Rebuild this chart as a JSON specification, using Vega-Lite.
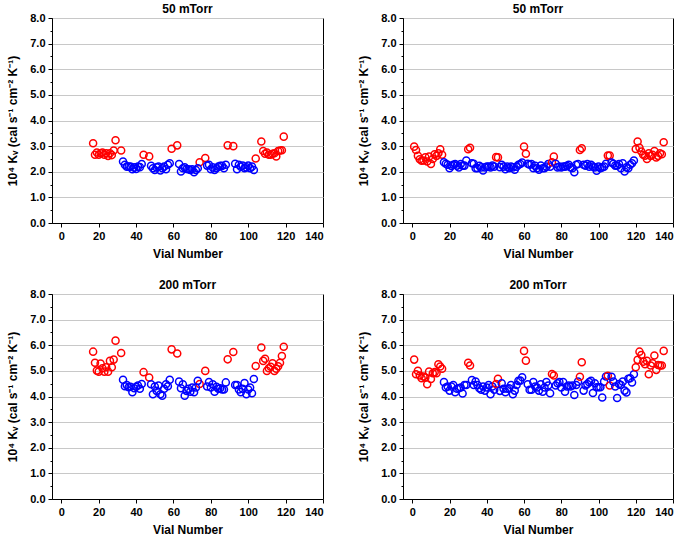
{
"$schema":"https://vega.github.io/schema/vega-lite/v6.json",
"padding":{"left":6,"top":2,"right":5,"bottom":0},
"background":"white",
"datasets":{
"p1":[{"v":17,"k":3.11,"g":"r"},{"v":18,"k":2.66,"g":"r"},{"v":19,"k":2.75,"g":"r"},{"v":20,"k":2.66,"g":"r"},{"v":21,"k":2.72,"g":"r"},{"v":22,"k":2.75,"g":"r"},{"v":23,"k":2.66,"g":"r"},{"v":24,"k":2.72,"g":"r"},{"v":25,"k":2.62,"g":"r"},{"v":26,"k":2.72,"g":"r"},{"v":27,"k":2.65,"g":"r"},{"v":28,"k":2.83,"g":"r"},{"v":29,"k":3.23,"g":"r"},{"v":32,"k":2.83,"g":"r"},{"v":44,"k":2.66,"g":"r"},{"v":47,"k":2.6,"g":"r"},{"v":59,"k":2.9,"g":"r"},{"v":62,"k":3.03,"g":"r"},{"v":74,"k":2.37,"g":"r"},{"v":77,"k":2.54,"g":"r"},{"v":89,"k":3.03,"g":"r"},{"v":92,"k":3.0,"g":"r"},{"v":104,"k":2.52,"g":"r"},{"v":107,"k":3.18,"g":"r"},{"v":108,"k":2.81,"g":"r"},{"v":109,"k":2.7,"g":"r"},{"v":110,"k":2.75,"g":"r"},{"v":111,"k":2.66,"g":"r"},{"v":112,"k":2.66,"g":"r"},{"v":113,"k":2.7,"g":"r"},{"v":114,"k":2.72,"g":"r"},{"v":115,"k":2.6,"g":"r"},{"v":116,"k":2.81,"g":"r"},{"v":117,"k":2.83,"g":"r"},{"v":118,"k":2.84,"g":"r"},{"v":119,"k":3.37,"g":"r"},
{"v":33,"k":2.4,"g":"b"},{"v":34,"k":2.27,"g":"b"},{"v":35,"k":2.2,"g":"b"},{"v":36,"k":2.2,"g":"b"},{"v":37,"k":2.2,"g":"b"},{"v":38,"k":2.1,"g":"b"},{"v":39,"k":2.17,"g":"b"},{"v":40,"k":2.11,"g":"b"},{"v":41,"k":2.2,"g":"b"},{"v":42,"k":2.18,"g":"b"},{"v":43,"k":2.3,"g":"b"},
{"v":48,"k":2.23,"g":"b"},{"v":49,"k":2.14,"g":"b"},{"v":50,"k":2.07,"g":"b"},{"v":51,"k":2.17,"g":"b"},{"v":52,"k":2.2,"g":"b"},{"v":53,"k":2.05,"g":"b"},{"v":54,"k":2.14,"g":"b"},{"v":55,"k":2.2,"g":"b"},{"v":56,"k":2.1,"g":"b"},{"v":57,"k":2.27,"g":"b"},{"v":58,"k":2.33,"g":"b"},
{"v":63,"k":2.3,"g":"b"},{"v":64,"k":2.01,"g":"b"},{"v":65,"k":2.14,"g":"b"},{"v":66,"k":2.17,"g":"b"},{"v":67,"k":2.11,"g":"b"},{"v":68,"k":2.1,"g":"b"},{"v":69,"k":2.07,"g":"b"},{"v":70,"k":2.1,"g":"b"},{"v":71,"k":1.98,"g":"b"},{"v":72,"k":2.07,"g":"b"},{"v":73,"k":2.14,"g":"b"},
{"v":78,"k":2.24,"g":"b"},{"v":79,"k":2.27,"g":"b"},{"v":80,"k":2.1,"g":"b"},{"v":81,"k":2.17,"g":"b"},{"v":82,"k":2.07,"g":"b"},{"v":83,"k":2.14,"g":"b"},{"v":84,"k":2.2,"g":"b"},{"v":85,"k":2.23,"g":"b"},{"v":86,"k":2.23,"g":"b"},{"v":87,"k":2.14,"g":"b"},{"v":88,"k":2.27,"g":"b"},
{"v":93,"k":2.31,"g":"b"},{"v":94,"k":2.1,"g":"b"},{"v":95,"k":2.27,"g":"b"},{"v":96,"k":2.2,"g":"b"},{"v":97,"k":2.24,"g":"b"},{"v":98,"k":2.14,"g":"b"},{"v":99,"k":2.17,"g":"b"},{"v":100,"k":2.24,"g":"b"},{"v":101,"k":2.14,"g":"b"},{"v":102,"k":2.2,"g":"b"},{"v":103,"k":2.07,"g":"b"}],
"p2":[{"v":1,"k":2.98,"g":"r"},{"v":2,"k":2.85,"g":"r"},{"v":3,"k":2.62,"g":"r"},{"v":4,"k":2.49,"g":"r"},{"v":5,"k":2.43,"g":"r"},{"v":6,"k":2.44,"g":"r"},{"v":7,"k":2.56,"g":"r"},{"v":8,"k":2.4,"g":"r"},{"v":9,"k":2.59,"g":"r"},{"v":10,"k":2.3,"g":"r"},{"v":11,"k":2.5,"g":"r"},{"v":12,"k":2.68,"g":"r"},{"v":13,"k":2.62,"g":"r"},{"v":14,"k":2.72,"g":"r"},{"v":15,"k":2.88,"g":"r"},{"v":16,"k":2.66,"g":"r"},
{"v":17,"k":2.37,"g":"b"},{"v":18,"k":2.31,"g":"b"},{"v":19,"k":2.27,"g":"b"},{"v":20,"k":2.14,"g":"b"},{"v":21,"k":2.23,"g":"b"},{"v":22,"k":2.27,"g":"b"},{"v":23,"k":2.3,"g":"b"},{"v":24,"k":2.24,"g":"b"},{"v":25,"k":2.17,"g":"b"},{"v":26,"k":2.3,"g":"b"},{"v":27,"k":2.24,"g":"b"},{"v":28,"k":2.24,"g":"b"},{"v":29,"k":2.44,"g":"b"},
{"v":30,"k":2.88,"g":"r"},{"v":31,"k":2.94,"g":"r"},
{"v":32,"k":2.33,"g":"b"},{"v":33,"k":2.31,"g":"b"},{"v":34,"k":2.14,"g":"b"},{"v":35,"k":2.14,"g":"b"},{"v":36,"k":2.23,"g":"b"},{"v":37,"k":2.17,"g":"b"},{"v":38,"k":2.05,"g":"b"},{"v":39,"k":2.17,"g":"b"},{"v":40,"k":2.2,"g":"b"},{"v":41,"k":2.2,"g":"b"},{"v":42,"k":2.17,"g":"b"},{"v":43,"k":2.24,"g":"b"},{"v":44,"k":2.2,"g":"b"},
{"v":45,"k":2.57,"g":"r"},{"v":46,"k":2.56,"g":"r"},
{"v":47,"k":2.18,"g":"b"},{"v":48,"k":2.27,"g":"b"},{"v":49,"k":2.2,"g":"b"},{"v":50,"k":2.1,"g":"b"},{"v":51,"k":2.2,"g":"b"},{"v":52,"k":2.14,"g":"b"},{"v":53,"k":2.2,"g":"b"},{"v":54,"k":2.17,"g":"b"},{"v":55,"k":2.08,"g":"b"},{"v":56,"k":2.2,"g":"b"},{"v":57,"k":2.27,"g":"b"},{"v":58,"k":2.3,"g":"b"},{"v":59,"k":2.36,"g":"b"},
{"v":60,"k":2.98,"g":"r"},{"v":61,"k":2.7,"g":"r"},
{"v":62,"k":2.31,"g":"b"},{"v":63,"k":2.27,"g":"b"},{"v":64,"k":2.3,"g":"b"},{"v":65,"k":2.14,"g":"b"},{"v":66,"k":2.23,"g":"b"},{"v":67,"k":2.14,"g":"b"},{"v":68,"k":2.08,"g":"b"},{"v":69,"k":2.24,"g":"b"},{"v":70,"k":2.14,"g":"b"},{"v":71,"k":2.14,"g":"b"},{"v":72,"k":2.2,"g":"b"},{"v":73,"k":2.3,"g":"b"},{"v":74,"k":2.2,"g":"b"},
{"v":75,"k":2.37,"g":"r"},{"v":76,"k":2.59,"g":"r"},
{"v":77,"k":2.31,"g":"b"},{"v":78,"k":2.17,"g":"b"},{"v":79,"k":2.2,"g":"b"},{"v":80,"k":2.17,"g":"b"},{"v":81,"k":2.2,"g":"b"},{"v":82,"k":2.2,"g":"b"},{"v":83,"k":2.23,"g":"b"},{"v":84,"k":2.27,"g":"b"},{"v":85,"k":2.17,"g":"b"},{"v":86,"k":2.14,"g":"b"},{"v":87,"k":1.98,"g":"b"},{"v":88,"k":2.27,"g":"b"},{"v":89,"k":2.3,"g":"b"},
{"v":90,"k":2.85,"g":"r"},{"v":91,"k":2.92,"g":"r"},
{"v":92,"k":2.27,"g":"b"},{"v":93,"k":2.24,"g":"b"},{"v":94,"k":2.3,"g":"b"},{"v":95,"k":2.2,"g":"b"},{"v":96,"k":2.27,"g":"b"},{"v":97,"k":2.2,"g":"b"},{"v":98,"k":2.17,"g":"b"},{"v":99,"k":2.04,"g":"b"},{"v":100,"k":2.2,"g":"b"},{"v":101,"k":2.14,"g":"b"},{"v":102,"k":2.17,"g":"b"},{"v":103,"k":2.2,"g":"b"},{"v":104,"k":2.31,"g":"b"},
{"v":105,"k":2.63,"g":"r"},{"v":106,"k":2.63,"g":"r"},
{"v":107,"k":2.36,"g":"b"},{"v":108,"k":2.31,"g":"b"},{"v":109,"k":2.24,"g":"b"},{"v":110,"k":2.24,"g":"b"},{"v":111,"k":2.3,"g":"b"},{"v":112,"k":2.14,"g":"b"},{"v":113,"k":2.33,"g":"b"},{"v":114,"k":2.01,"g":"b"},{"v":115,"k":2.17,"g":"b"},{"v":116,"k":2.14,"g":"b"},{"v":117,"k":2.27,"g":"b"},{"v":118,"k":2.33,"g":"b"},{"v":119,"k":2.44,"g":"b"},
{"v":120,"k":2.89,"g":"r"},{"v":121,"k":3.18,"g":"r"},{"v":122,"k":2.94,"g":"r"},{"v":123,"k":2.79,"g":"r"},{"v":124,"k":2.66,"g":"r"},{"v":125,"k":2.63,"g":"r"},{"v":126,"k":2.5,"g":"r"},{"v":127,"k":2.72,"g":"r"},{"v":128,"k":2.62,"g":"r"},{"v":129,"k":2.66,"g":"r"},{"v":130,"k":2.81,"g":"r"},{"v":131,"k":2.56,"g":"r"},{"v":132,"k":2.62,"g":"r"},{"v":133,"k":2.72,"g":"r"},{"v":134,"k":2.68,"g":"r"},{"v":135,"k":3.15,"g":"r"}],
"p3":[{"v":17,"k":5.75,"g":"r"},{"v":18,"k":5.32,"g":"r"},{"v":19,"k":5.01,"g":"r"},{"v":20,"k":4.97,"g":"r"},{"v":21,"k":5.29,"g":"r"},{"v":22,"k":5.1,"g":"r"},{"v":23,"k":4.97,"g":"r"},{"v":24,"k":5.14,"g":"r"},{"v":25,"k":4.97,"g":"r"},{"v":26,"k":5.39,"g":"r"},{"v":27,"k":5.14,"g":"r"},{"v":28,"k":5.44,"g":"r"},{"v":29,"k":6.18,"g":"r"},{"v":32,"k":5.7,"g":"r"},{"v":44,"k":4.95,"g":"r"},{"v":47,"k":4.74,"g":"r"},{"v":59,"k":5.84,"g":"r"},{"v":62,"k":5.68,"g":"r"},{"v":74,"k":4.49,"g":"r"},{"v":77,"k":5.0,"g":"r"},{"v":89,"k":5.45,"g":"r"},{"v":92,"k":5.74,"g":"r"},{"v":104,"k":5.19,"g":"r"},{"v":107,"k":5.91,"g":"r"},{"v":108,"k":5.39,"g":"r"},{"v":109,"k":5.47,"g":"r"},{"v":110,"k":5.0,"g":"r"},{"v":111,"k":5.1,"g":"r"},{"v":112,"k":5.16,"g":"r"},{"v":113,"k":5.3,"g":"r"},{"v":114,"k":5.0,"g":"r"},{"v":115,"k":5.08,"g":"r"},{"v":116,"k":5.18,"g":"r"},{"v":117,"k":5.32,"g":"r"},{"v":118,"k":5.58,"g":"r"},{"v":119,"k":5.94,"g":"r"},
{"v":33,"k":4.65,"g":"b"},{"v":34,"k":4.4,"g":"b"},{"v":35,"k":4.45,"g":"b"},{"v":36,"k":4.36,"g":"b"},{"v":37,"k":4.38,"g":"b"},{"v":38,"k":4.17,"g":"b"},{"v":39,"k":4.32,"g":"b"},{"v":40,"k":4.38,"g":"b"},{"v":41,"k":4.43,"g":"b"},{"v":42,"k":4.3,"g":"b"},{"v":43,"k":4.49,"g":"b"},
{"v":48,"k":4.48,"g":"b"},{"v":49,"k":4.09,"g":"b"},{"v":50,"k":4.39,"g":"b"},{"v":51,"k":4.22,"g":"b"},{"v":52,"k":4.43,"g":"b"},{"v":53,"k":4.09,"g":"b"},{"v":54,"k":4.03,"g":"b"},{"v":55,"k":4.3,"g":"b"},{"v":56,"k":4.48,"g":"b"},{"v":57,"k":4.4,"g":"b"},{"v":58,"k":4.65,"g":"b"},
{"v":63,"k":4.58,"g":"b"},{"v":64,"k":4.32,"g":"b"},{"v":65,"k":4.48,"g":"b"},{"v":66,"k":4.03,"g":"b"},{"v":67,"k":4.22,"g":"b"},{"v":68,"k":4.3,"g":"b"},{"v":69,"k":4.19,"g":"b"},{"v":70,"k":4.35,"g":"b"},{"v":71,"k":4.17,"g":"b"},{"v":72,"k":4.35,"g":"b"},{"v":73,"k":4.61,"g":"b"},
{"v":78,"k":4.39,"g":"b"},{"v":79,"k":4.56,"g":"b"},{"v":80,"k":4.35,"g":"b"},{"v":81,"k":4.48,"g":"b"},{"v":82,"k":4.19,"g":"b"},{"v":83,"k":4.38,"g":"b"},{"v":84,"k":4.3,"g":"b"},{"v":85,"k":4.32,"g":"b"},{"v":86,"k":4.27,"g":"b"},{"v":87,"k":4.27,"g":"b"},{"v":88,"k":4.55,"g":"b"},
{"v":93,"k":4.45,"g":"b"},{"v":94,"k":4.45,"g":"b"},{"v":95,"k":4.27,"g":"b"},{"v":96,"k":4.17,"g":"b"},{"v":97,"k":4.3,"g":"b"},{"v":98,"k":4.53,"g":"b"},{"v":99,"k":4.09,"g":"b"},{"v":100,"k":4.27,"g":"b"},{"v":101,"k":4.35,"g":"b"},{"v":102,"k":4.13,"g":"b"},{"v":103,"k":4.68,"g":"b"}],
"p4":[{"v":1,"k":5.44,"g":"r"},{"v":2,"k":4.87,"g":"r"},{"v":3,"k":5.0,"g":"r"},{"v":4,"k":4.82,"g":"r"},{"v":5,"k":4.71,"g":"r"},{"v":6,"k":4.78,"g":"r"},{"v":7,"k":4.74,"g":"r"},{"v":8,"k":4.48,"g":"r"},{"v":9,"k":4.97,"g":"r"},{"v":10,"k":4.68,"g":"r"},{"v":11,"k":4.91,"g":"r"},{"v":12,"k":4.95,"g":"r"},{"v":13,"k":4.91,"g":"r"},{"v":14,"k":5.26,"g":"r"},{"v":15,"k":5.17,"g":"r"},{"v":16,"k":5.08,"g":"r"},
{"v":17,"k":4.56,"g":"b"},{"v":18,"k":4.35,"g":"b"},{"v":19,"k":4.39,"g":"b"},{"v":20,"k":4.23,"g":"b"},{"v":21,"k":4.39,"g":"b"},{"v":22,"k":4.45,"g":"b"},{"v":23,"k":4.17,"g":"b"},{"v":24,"k":4.3,"g":"b"},{"v":25,"k":4.32,"g":"b"},{"v":26,"k":4.35,"g":"b"},{"v":27,"k":4.12,"g":"b"},{"v":28,"k":4.45,"g":"b"},{"v":29,"k":4.45,"g":"b"},
{"v":30,"k":5.32,"g":"r"},{"v":31,"k":5.21,"g":"r"},
{"v":32,"k":4.64,"g":"b"},{"v":33,"k":4.45,"g":"b"},{"v":34,"k":4.58,"g":"b"},{"v":35,"k":4.45,"g":"b"},{"v":36,"k":4.32,"g":"b"},{"v":37,"k":4.26,"g":"b"},{"v":38,"k":4.39,"g":"b"},{"v":39,"k":4.23,"g":"b"},{"v":40,"k":4.35,"g":"b"},{"v":41,"k":4.45,"g":"b"},{"v":42,"k":4.09,"g":"b"},{"v":43,"k":4.39,"g":"b"},{"v":44,"k":4.26,"g":"b"},
{"v":45,"k":4.49,"g":"r"},{"v":46,"k":4.69,"g":"r"},
{"v":47,"k":4.22,"g":"b"},{"v":48,"k":4.52,"g":"b"},{"v":49,"k":4.3,"g":"b"},{"v":50,"k":4.17,"g":"b"},{"v":51,"k":4.3,"g":"b"},{"v":52,"k":4.32,"g":"b"},{"v":53,"k":4.45,"g":"b"},{"v":54,"k":4.09,"g":"b"},{"v":55,"k":4.23,"g":"b"},{"v":56,"k":4.45,"g":"b"},{"v":57,"k":4.61,"g":"b"},{"v":58,"k":4.62,"g":"b"},{"v":59,"k":4.75,"g":"b"},
{"v":60,"k":5.78,"g":"r"},{"v":61,"k":5.4,"g":"r"},
{"v":62,"k":4.48,"g":"b"},{"v":63,"k":4.26,"g":"b"},{"v":64,"k":4.26,"g":"b"},{"v":65,"k":4.56,"g":"b"},{"v":66,"k":4.39,"g":"b"},{"v":67,"k":4.35,"g":"b"},{"v":68,"k":4.23,"g":"b"},{"v":69,"k":4.48,"g":"b"},{"v":70,"k":4.19,"g":"b"},{"v":71,"k":4.35,"g":"b"},{"v":72,"k":4.56,"g":"b"},{"v":73,"k":4.43,"g":"b"},{"v":74,"k":4.13,"g":"b"},
{"v":75,"k":4.88,"g":"r"},{"v":76,"k":4.82,"g":"r"},
{"v":77,"k":4.43,"g":"b"},{"v":78,"k":4.52,"g":"b"},{"v":79,"k":4.56,"g":"b"},{"v":80,"k":4.35,"g":"b"},{"v":81,"k":4.56,"g":"b"},{"v":82,"k":4.19,"g":"b"},{"v":83,"k":4.39,"g":"b"},{"v":84,"k":4.43,"g":"b"},{"v":85,"k":4.39,"g":"b"},{"v":86,"k":4.43,"g":"b"},{"v":87,"k":4.06,"g":"b"},{"v":88,"k":4.45,"g":"b"},{"v":89,"k":4.58,"g":"b"},
{"v":90,"k":4.77,"g":"r"},{"v":91,"k":5.34,"g":"r"},
{"v":92,"k":4.23,"g":"b"},{"v":93,"k":4.43,"g":"b"},{"v":94,"k":4.49,"g":"b"},{"v":95,"k":4.56,"g":"b"},{"v":96,"k":4.61,"g":"b"},{"v":97,"k":4.14,"g":"b"},{"v":98,"k":4.52,"g":"b"},{"v":99,"k":4.36,"g":"b"},{"v":100,"k":4.36,"g":"b"},{"v":101,"k":4.36,"g":"b"},{"v":102,"k":3.96,"g":"b"},{"v":103,"k":4.58,"g":"b"},{"v":104,"k":4.78,"g":"b"},
{"v":105,"k":4.81,"g":"r"},{"v":106,"k":4.43,"g":"r"},
{"v":107,"k":4.77,"g":"b"},{"v":108,"k":4.58,"g":"b"},{"v":109,"k":4.39,"g":"b"},{"v":110,"k":3.94,"g":"b"},{"v":111,"k":4.49,"g":"b"},{"v":112,"k":4.45,"g":"b"},{"v":113,"k":4.58,"g":"b"},{"v":114,"k":4.23,"g":"b"},{"v":115,"k":4.16,"g":"b"},{"v":116,"k":4.69,"g":"b"},{"v":117,"k":4.71,"g":"b"},{"v":118,"k":4.55,"g":"b"},{"v":119,"k":4.87,"g":"b"},
{"v":120,"k":5.14,"g":"r"},{"v":121,"k":5.43,"g":"r"},{"v":122,"k":5.75,"g":"r"},{"v":123,"k":5.62,"g":"r"},{"v":124,"k":5.36,"g":"r"},{"v":125,"k":5.26,"g":"r"},{"v":126,"k":5.39,"g":"r"},{"v":127,"k":4.87,"g":"r"},{"v":128,"k":5.21,"g":"r"},{"v":129,"k":5.3,"g":"r"},{"v":130,"k":5.6,"g":"r"},{"v":131,"k":5.04,"g":"r"},{"v":132,"k":5.23,"g":"r"},{"v":133,"k":5.21,"g":"r"},{"v":134,"k":5.21,"g":"r"},{"v":135,"k":5.78,"g":"r"}]
},
"columns":2,
"spacing":{"row":71,"column":80},
"bounds":"flush",
"concat":[
{"title":"50 mTorr","data":{"name":"p1"},"width":271,"height":205,"resolve":{"axis":{"y":"independent"}},
 "layer":[
 {"mark":{"type":"point","filled":false,"size":50,"strokeWidth":1.5,"opacity":1},
 "encoding":{
  "x":{"field":"v","type":"quantitative","scale":{"domain":[-5,140],"nice":false,"zero":false},"axis":{"values":[0,20,40,60,80,100,120,140],"labelOverlap":false,"title":"Vial Number"}},
  "y":{"field":"k","type":"quantitative","scale":{"domain":[0,8],"nice":false},"axis":{"values":[0,1,2,3,4,5,6,7,8],"format":".1f","title":"10⁴ Kᵥ  (cal s⁻¹ cm⁻² K⁻¹)"}},
  "color":{"field":"g","type":"nominal","scale":{"domain":["r","b"],"range":["#ff0000","#0000ff"]},"legend":null}}},
 {"mark":{"type":"point","opacity":0},
 "encoding":{
  "x":{"field":"v","type":"quantitative","axis":{"values":[0,20,40,60,80,100,120,140],"labelOverlap":false,"title":"Vial Number"}},
  "y":{"field":"k","type":"quantitative","axis":{"orient":"left","values":[0.5,1.5,2.5,3.5,4.5,5.5,6.5,7.5],"labels":false,"grid":false,"domain":false,"title":null,"tickSize":2}}}}
 ]},
{"title":"50 mTorr","data":{"name":"p2"},"width":270,"height":205,"resolve":{"axis":{"y":"independent"}},
 "layer":[
 {"mark":{"type":"point","filled":false,"size":50,"strokeWidth":1.5,"opacity":1},
 "encoding":{
  "x":{"field":"v","type":"quantitative","scale":{"domain":[-5,140],"nice":false,"zero":false},"axis":{"values":[0,20,40,60,80,100,120,140],"labelOverlap":false,"title":"Vial Number"}},
  "y":{"field":"k","type":"quantitative","scale":{"domain":[0,8],"nice":false},"axis":{"values":[0,1,2,3,4,5,6,7,8],"format":".1f","title":"10⁴ Kᵥ  (cal s⁻¹ cm⁻² K⁻¹)"}},
  "color":{"field":"g","type":"nominal","scale":{"domain":["r","b"],"range":["#ff0000","#0000ff"]},"legend":null}}},
 {"mark":{"type":"point","opacity":0},
 "encoding":{
  "x":{"field":"v","type":"quantitative","axis":{"values":[0,20,40,60,80,100,120,140],"labelOverlap":false,"title":"Vial Number"}},
  "y":{"field":"k","type":"quantitative","axis":{"orient":"left","values":[0.5,1.5,2.5,3.5,4.5,5.5,6.5,7.5],"labels":false,"grid":false,"domain":false,"title":null,"tickSize":2}}}}
 ]},
{"title":"200 mTorr","data":{"name":"p3"},"width":271,"height":205,"resolve":{"axis":{"y":"independent"}},
 "layer":[
 {"mark":{"type":"point","filled":false,"size":50,"strokeWidth":1.5,"opacity":1},
 "encoding":{
  "x":{"field":"v","type":"quantitative","scale":{"domain":[-5,140],"nice":false,"zero":false},"axis":{"values":[0,20,40,60,80,100,120,140],"labelOverlap":false,"title":"Vial Number"}},
  "y":{"field":"k","type":"quantitative","scale":{"domain":[0,8],"nice":false},"axis":{"values":[0,1,2,3,4,5,6,7,8],"format":".1f","title":"10⁴ Kᵥ  (cal s⁻¹ cm⁻² K⁻¹)"}},
  "color":{"field":"g","type":"nominal","scale":{"domain":["r","b"],"range":["#ff0000","#0000ff"]},"legend":null}}},
 {"mark":{"type":"point","opacity":0},
 "encoding":{
  "x":{"field":"v","type":"quantitative","axis":{"values":[0,20,40,60,80,100,120,140],"labelOverlap":false,"title":"Vial Number"}},
  "y":{"field":"k","type":"quantitative","axis":{"orient":"left","values":[0.5,1.5,2.5,3.5,4.5,5.5,6.5,7.5],"labels":false,"grid":false,"domain":false,"title":null,"tickSize":2}}}}
 ]},
{"title":"200 mTorr","data":{"name":"p4"},"width":270,"height":205,"resolve":{"axis":{"y":"independent"}},
 "layer":[
 {"mark":{"type":"point","filled":false,"size":50,"strokeWidth":1.5,"opacity":1},
 "encoding":{
  "x":{"field":"v","type":"quantitative","scale":{"domain":[-5,140],"nice":false,"zero":false},"axis":{"values":[0,20,40,60,80,100,120,140],"labelOverlap":false,"title":"Vial Number"}},
  "y":{"field":"k","type":"quantitative","scale":{"domain":[0,8],"nice":false},"axis":{"values":[0,1,2,3,4,5,6,7,8],"format":".1f","title":"10⁴ Kᵥ  (cal s⁻¹ cm⁻² K⁻¹)"}},
  "color":{"field":"g","type":"nominal","scale":{"domain":["r","b"],"range":["#ff0000","#0000ff"]},"legend":null}}},
 {"mark":{"type":"point","opacity":0},
 "encoding":{
  "x":{"field":"v","type":"quantitative","axis":{"values":[0,20,40,60,80,100,120,140],"labelOverlap":false,"title":"Vial Number"}},
  "y":{"field":"k","type":"quantitative","axis":{"orient":"left","values":[0.5,1.5,2.5,3.5,4.5,5.5,6.5,7.5],"labels":false,"grid":false,"domain":false,"title":null,"tickSize":2}}}}
 ]}
],
"config":{
 "font":"Liberation Sans",
 "view":{"stroke":"#000000","strokeWidth":1},
 "title":{"font":"Liberation Sans","fontSize":12,"fontWeight":"bold","color":"#000000","offset":-4},
 "axis":{"labelFont":"Liberation Sans","labelFontSize":11,"labelFontWeight":"bold","labelColor":"#000000","titleFont":"Liberation Sans","titleFontSize":12,"titleFontWeight":"bold","titleColor":"#000000","domainColor":"#000000","tickColor":"#000000","tickSize":4,"labelPadding":3},
 "axisX":{"grid":false,"titlePadding":7},
 "axisY":{"grid":true,"gridColor":"#c8c8c8","gridWidth":1,"titlePadding":10}
}
}
